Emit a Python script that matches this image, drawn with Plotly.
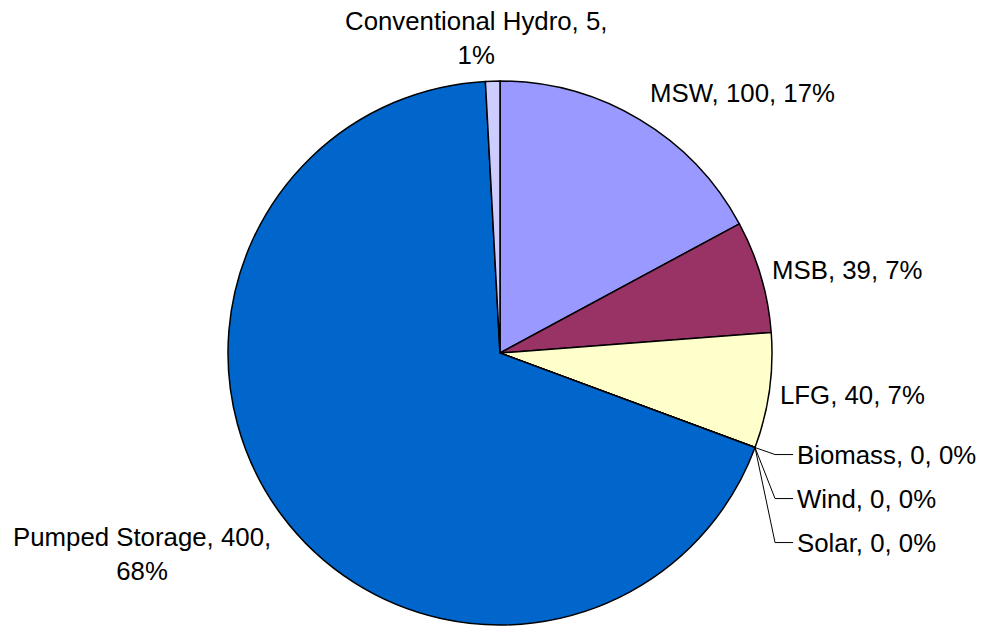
import math
import plotly.graph_objects as go

labels = ["MSW", "MSB", "LFG", "Biomass", "Wind", "Solar", "Pumped Storage", "Conventional Hydro"]
values = [100, 39, 40, 0, 0, 0, 400, 5]
colors = ["#9999FF", "#993366", "#FFFFCC", "#00CCFF", "#CCFFFF", "#FF8080", "#0066CC", "#CCCCFF"]

W, H = 983, 627
CX, CY, R = 500, 353, 272
FONT = dict(family="Liberation Sans, Arial, sans-serif", size=25.8, color="#000000")

total = sum(values)

def px(x):
    return x / W

def py(y):
    return 1 - y / H

fig = go.Figure(go.Pie(
    labels=labels, values=values, sort=False, direction="clockwise", rotation=0,
    marker=dict(colors=colors, line=dict(color="#000000", width=1.5)),
    textinfo="none", hoverinfo="label+value+percent", showlegend=False,
    domain=dict(x=[px(CX - R), px(CX + R)], y=[py(CY + R), py(CY - R)]),
))

annotations = []
shapes = []
cum = 0
zero_idx = 0
for lab, val in zip(labels, values):
    start = cum
    cum += val
    pct = round(100 * val / total)
    text = f"{lab}, {val}, {pct}%"
    if val == 0:
        th = 2 * math.pi * start / total
        bx, by = CX + R * math.sin(th), CY - R * math.cos(th)
        ly = by + 7 + 44 * zero_idx
        kx = bx + 20
        shapes.append(dict(type="path", xref="paper", yref="paper",
                           path=f"M {px(bx)},{py(by)} L {px(kx)},{py(ly)} L {px(kx + 18)},{py(ly)}",
                           line=dict(color="#000000", width=1)))
        annotations.append(dict(x=px(kx + 20), y=py(ly), xref="paper", yref="paper", text=text,
                                showarrow=False, xanchor="left", yanchor="middle", font=FONT))
        zero_idx += 1
        continue
    th = 2 * math.pi * (start + val / 2) / total
    s, c = math.sin(th), math.cos(th)
    ex, ey = CX + R * s, CY - R * c
    if s > 0.3:
        xa, x = "left", ex + 9
    elif s < -0.3:
        xa, x = "right", ex - 8
    else:
        xa, x = "center", ex - 17
    if c > 0.6:
        ya, y = "bottom", ey - 10
    elif c < -0.5:
        ya, y = "top", ey + 7
    else:
        ya, y = "middle", ey + 1 - 25 * c
    if lab in ("Conventional Hydro", "Pumped Storage"):
        text = text.replace(f", {pct}%", f",<br>{pct}%")
    annotations.append(dict(x=px(x), y=py(y), xref="paper", yref="paper", text=text,
                            showarrow=False, xanchor=xa, yanchor=ya, align="center", font=FONT))

fig.update_layout(
    width=W, height=H, margin=dict(l=0, r=0, t=0, b=0),
    paper_bgcolor="#FFFFFF", plot_bgcolor="#FFFFFF",
    annotations=annotations, shapes=shapes, font=FONT,
)
fig.write_html("out.html", config={"displayModeBar": False},
               post_script="document.body.style.margin='0';document.body.style.overflow='hidden';")
